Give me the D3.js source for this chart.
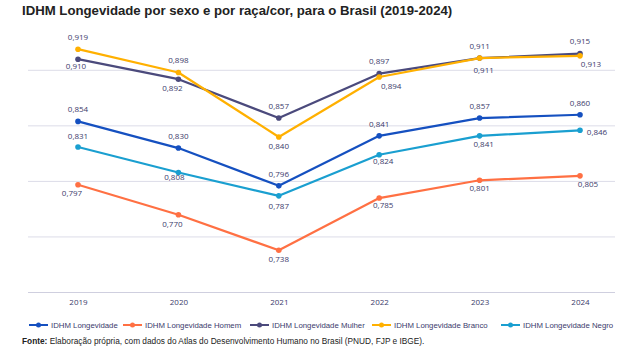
<!DOCTYPE html>
<html>
<head>
<meta charset="utf-8">
<script src="https://cdn.jsdelivr.net/npm/d3@7"></script>
<style>
	body { margin: 0; background: #fff; }
	svg { display: block; }
</style>
</head>
<body>
<svg id="chart"></svg>
<script>
const WIDTH = 640;
const HEIGHT = 355;

const years = ["2019", "2020", "2021", "2022", "2023", "2024"];
const seriesNames = ["IDHM Longevidade", "IDHM Longevidade Homem", "IDHM Longevidade Mulher", "IDHM Longevidade Branco", "IDHM Longevidade Negro"];
const longevidade = [0.854, 0.830, 0.796, 0.841, 0.857, 0.860];
const homem = [0.797, 0.770, 0.738, 0.785, 0.801, 0.805];
const mulher = [0.910, 0.892, 0.857, 0.897, 0.911, 0.915];
const branco = [0.919, 0.898, 0.840, 0.894, 0.911, 0.913];
const negro = [0.831, 0.808, 0.787, 0.824, 0.841, 0.846];
const gridTicks = [0.70, 0.75, 0.80, 0.85, 0.90];

// styling per series (colour and label offsets)
const colors = ["#1550c0", "#ff7043", "#4b4a7c", "#ffb000", "#1a9fd0"];
const labelOffsets = [
	[[0, -12], [0, -12], [0, -12], [0, -12], [0, -12], [0, -12]],
	[[-6, 8], [-6, 9], [0, 9], [4, 7], [0, 8], [8, 8]],
	[[-2, 7], [-6, 9], [0, -12], [0, -12], [0, -12], [0, -12]],
	[[0, -12], [0, -12], [0, 9], [12, 9], [4, 12], [11, 8]],
	[[0, -11], [-4, 5], [0, 10], [4, 6], [4, 8], [17, 2]]
];
const legendX = [29, 123, 250, 372, 501];

const allValues = [longevidade, homem, mulher, branco, negro];

const svg = d3.select("#chart")
	.attr("width", WIDTH)
	.attr("height", HEIGHT);

const xScale = d3.scalePoint()
	.domain(years)
	.range([78, 580]);
const yScale = d3.scaleLinear()
	.domain([0.70, 0.95])
	.range([292.5, 14.75]);

// Title
svg.append("text")
	.attr("x", 22).attr("y", 15)
	.attr("font-family", "'Liberation Sans', sans-serif")
	.attr("font-size", 13.2)
	.attr("font-weight", "bold")
	.attr("fill", "#222")
	.text("IDHM Longevidade por sexo e por raça/cor, para o Brasil (2019-2024)");

// Grid lines
svg.append("g").selectAll("line")
	.data(gridTicks)
	.enter()
	.append("line")
	.attr("x1", 28).attr("x2", 615)
	.attr("y1", d => yScale(d)).attr("y2", d => yScale(d))
	.attr("stroke", d => d == 0.70 ? "#cfcfdf" : "#dcdce8")
	.attr("stroke-width", 1);

// Year labels
const xAxis = d3.axisBottom(xScale).tickSize(0).tickPadding(7);
const axisG = svg.append("g")
	.attr("transform", "translate(0," + yScale(0.70) + ")")
	.call(xAxis);
axisG.select(".domain").remove();
axisG.selectAll("text")
	.attr("font-family", "'Open Sans', sans-serif")
	.attr("font-size", 8)
	.attr("fill", "#3b3b6b");

// Lines and points
const line = d3.line()
	.x((d, i) => xScale(years[i]))
	.y(d => yScale(d));

allValues.forEach(function(values, s) {
	const g = svg.append("g");
	g.append("path")
		.datum(values)
		.attr("d", line)
		.attr("fill", "none")
		.attr("stroke", colors[s])
		.attr("stroke-width", 2.2)
		.attr("stroke-linejoin", "round");
	g.selectAll("circle")
		.data(values)
		.enter()
		.append("circle")
		.attr("cx", (d, i) => xScale(years[i]))
		.attr("cy", d => yScale(d))
		.attr("r", 2.8)
		.attr("fill", colors[s]);
});

// Data labels
allValues.forEach(function(values, s) {
	svg.append("g").selectAll("text")
		.data(values)
		.enter()
		.append("text")
		.attr("x", (d, i) => xScale(years[i]) + labelOffsets[s][i][0])
		.attr("y", (d, i) => yScale(d) + labelOffsets[s][i][1])
		.attr("dy", "0.35em")
		.attr("text-anchor", "middle")
		.attr("font-family", "'Open Sans', sans-serif")
		.attr("font-size", 8)
		.attr("fill", "#3b3b6b")
		.text(d => d3.format(".3f")(d).replace(".", ","));
});

// Legend
const legend = svg.append("g").attr("transform", "translate(0,325)");
seriesNames.forEach(function(name, s) {
	const item = legend.append("g").attr("transform", "translate(" + legendX[s] + ",0)");
	item.append("line")
		.attr("x1", 0).attr("x2", 19)
		.attr("stroke", colors[s]).attr("stroke-width", 2);
	item.append("circle")
		.attr("cx", 9.5).attr("r", 2.5)
		.attr("fill", colors[s]);
	item.append("text")
		.attr("x", 22).attr("dy", "0.35em")
		.attr("font-family", "'Liberation Sans', sans-serif")
		.attr("font-size", 7.8)
		.attr("fill", "#3b3b6b")
		.text(name);
});

// Source
const source = svg.append("text")
	.attr("x", 22).attr("y", 344)
	.attr("font-family", "'Liberation Sans', sans-serif")
	.attr("font-size", 8.3)
	.attr("fill", "#222");
source.append("tspan").attr("font-weight", "bold").text("Fonte:");
source.append("tspan").text(" Elaboração própria, com dados do Atlas do Desenvolvimento Humano no Brasil (PNUD, FJP e IBGE).");
</script>
</body>
</html>
